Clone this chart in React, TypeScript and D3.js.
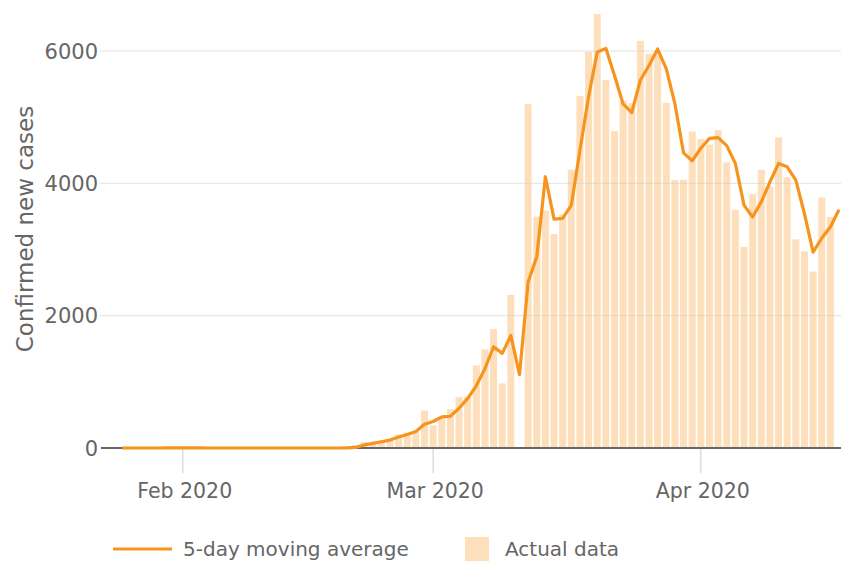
import React, { useEffect, useRef } from 'react';
import * as d3 from 'd3';

// daily confirmed new cases, one value per day from barStart
const barStart = "2020-01-23";
const actualCases = [
    0, 0, 0, 0, 0, 0, 0, 0, 2,
    0, 0, 0, 0, 0, 0, 1, 0, 0, 0, 0, 0, 0, 0, 0, 0, 0, 0, 0,
    17, 42, 93, 74, 93, 131, 202, 233, 240,
    566, 342, 466, 587, 769, 778, 1247, 1492, 1797, 977, 2313, 0, 5198, 3497, 3590, 3233,
    3526, 4207, 5322, 5986, 6557, 5560, 4789, 5249, 5210, 6153, 5959, 5974, 5217, 4050, 4053,
    4782, 4668, 4585, 4805, 4316, 3599, 3039, 3836, 4204, 3951, 4694, 4092, 3153, 2972, 2667,
    3786, 3493
];

// 5-day moving average as drawn, one value per day from lineStart
const lineStart = "2020-01-25";
const movingAverage = [
    0, 0, 0, 0, 0, 0.4, 0.4,
    0.4, 0.4, 0.4, 0, 0, 0.2, 0.2, 0.2, 0.2, 0.2, 0, 0, 0, 0, 0, 0, 0, 0, 0,
    3, 8, 45, 70, 95, 120, 165, 205, 250, 360,
    400, 470, 480, 600, 750, 940, 1200, 1530, 1430, 1700, 1110, 2510, 2890, 4100, 3460, 3470,
    3670, 4500, 5310, 5980, 6040, 5630, 5200, 5070, 5560, 5780, 6030, 5730, 5200, 4460, 4340,
    4530, 4680, 4690, 4570, 4300, 3670, 3490, 3720, 4020, 4300, 4250, 4050, 3540, 2960, 3170,
    3340, 3600
];

const yTicks = [0, 2000, 4000, 6000];
const xTicks = ["2020-02-01", "2020-03-01", "2020-04-01"];
const xTickLabels = ["Feb 2020", "Mar 2020", "Apr 2020"];
const legendLabels = ["5-day moving average", "Actual data"];
const yTitle = "Confirmed new cases";

const App = () => {
    const ref = useRef<SVGSVGElement>(null);

    const width = 841;
    const height = 562;
    const lineColor = "#f7941d";
    const barColor = "#fddfbc";
    const textColor = "#666666";
    const font = "DejaVu Sans, sans-serif";

    useEffect(() => {
        const parse = d3.timeParse("%Y-%m-%d");
        const svg = d3.select(ref.current);
        svg.selectAll("*").remove();

        const bars = actualCases.map((v, i) => ({ date: d3.timeDay.offset(parse(barStart)!, i), value: v }));
        const avg = movingAverage.map((v, i) => ({ date: d3.timeDay.offset(parse(lineStart)!, i), value: v }));

        const xScale = d3.scaleTime()
                         .domain([parse("2020-01-23")!, parse("2020-04-17")!])
                         .range([105, 839]);
        const yScale = d3.scaleLinear()
                         .domain([0, 6000])
                         .range([448, 51]);

        const barWidth = 7;

        // bars
        svg.append("g")
           .selectAll("rect")
           .data(bars)
           .join("rect")
           .attr("x", d => xScale(d.date) - barWidth / 2)
           .attr("y", d => yScale(d.value))
           .attr("width", barWidth)
           .attr("height", d => yScale(0) - yScale(d.value))
           .attr("fill", barColor);

        // gridlines + y labels
        const yAxis = svg.append("g");
        yAxis.selectAll("line")
             .data(yTicks.filter(t => t > 0))
             .join("line")
             .attr("x1", 100)
             .attr("x2", width)
             .attr("y1", d => yScale(d))
             .attr("y2", d => yScale(d))
             .attr("stroke", "#cfcfcf")
             .attr("stroke-opacity", 0.6)
             .attr("stroke-width", 1);
        yAxis.selectAll("text")
             .data(yTicks)
             .join("text")
             .attr("x", 98)
             .attr("y", d => yScale(d))
             .attr("dy", "0.36em")
             .attr("text-anchor", "end")
             .attr("font-family", font)
             .attr("font-size", 21)
             .attr("fill", textColor)
             .text(d => d);

        // x ticks
        const xAxis = svg.append("g");
        xAxis.selectAll("line")
             .data(xTicks)
             .join("line")
             .attr("x1", d => xScale(parse(d)!))
             .attr("x2", d => xScale(parse(d)!))
             .attr("y1", 449)
             .attr("y2", 473)
             .attr("stroke", "#dddddd")
             .attr("stroke-width", 1.5);
        xAxis.selectAll("text")
             .data(xTicks)
             .join("text")
             .attr("x", d => xScale(parse(d)!) + 2)
             .attr("y", 498)
             .attr("text-anchor", "middle")
             .attr("font-family", font)
             .attr("font-size", 20.5)
             .attr("fill", textColor)
             .text((d, i) => xTickLabels[i]);

        // baseline
        svg.append("line")
           .attr("x1", 101)
           .attr("x2", width)
           .attr("y1", yScale(0))
           .attr("y2", yScale(0))
           .attr("stroke", "#666666")
           .attr("stroke-width", 2);

        // moving average line
        const line = d3.line<{ date: Date, value: number }>()
                       .x(d => xScale(d.date))
                       .y(d => yScale(d.value));
        svg.append("path")
           .datum(avg)
           .attr("d", line)
           .attr("fill", "none")
           .attr("stroke", lineColor)
           .attr("stroke-width", 3.2)
           .attr("stroke-linejoin", "round");

        // y title
        svg.append("text")
           .attr("transform", "translate(33, 229) rotate(-90)")
           .attr("text-anchor", "middle")
           .attr("font-family", font)
           .attr("font-size", 23)
           .attr("fill", textColor)
           .text(yTitle);

        // legend
        const legend = svg.append("g");
        legend.append("line")
              .attr("x1", 113)
              .attr("x2", 172)
              .attr("y1", 549)
              .attr("y2", 549)
              .attr("stroke", lineColor)
              .attr("stroke-width", 3);
        legend.append("text")
              .attr("x", 183)
              .attr("y", 556)
              .attr("font-family", font)
              .attr("font-size", 20)
              .attr("fill", textColor)
              .text(legendLabels[0]);
        legend.append("rect")
              .attr("x", 465)
              .attr("y", 537)
              .attr("width", 24)
              .attr("height", 24)
              .attr("fill", barColor);
        legend.append("text")
              .attr("x", 505)
              .attr("y", 556)
              .attr("font-family", font)
              .attr("font-size", 20)
              .attr("fill", textColor)
              .text(legendLabels[1]);
    }, []);

    return (
        <svg ref={ref} width={width} height={height}
             style={{ position: "absolute", left: 0, top: 0, background: "#ffffff" }}></svg>
    );
};

export default App;
